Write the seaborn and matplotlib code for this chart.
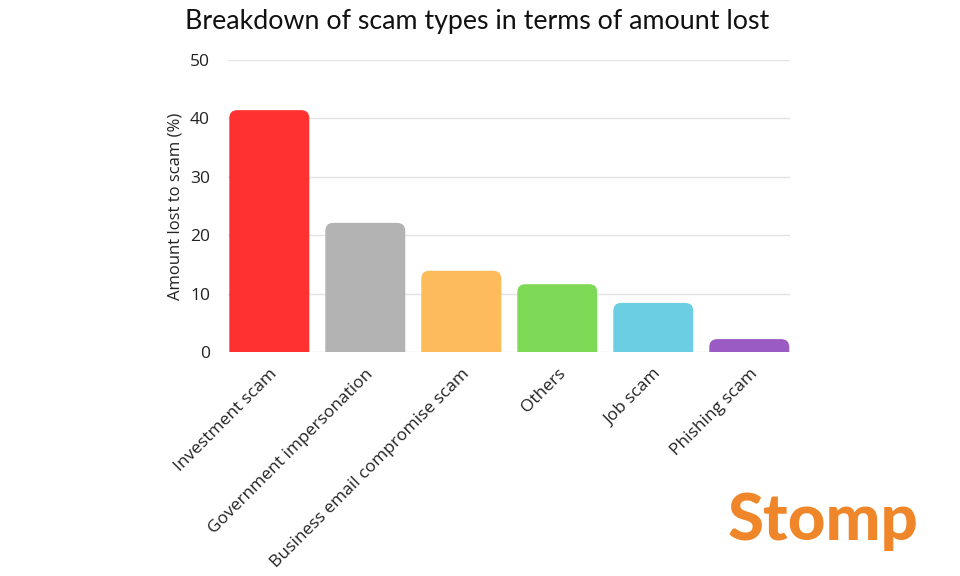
import matplotlib
matplotlib.use("Agg")
import matplotlib.pyplot as plt
import seaborn as sns
import pandas as pd
from matplotlib.patches import FancyBboxPatch

# data
CATEGORIES = ["Investment scam", "Government impersonation",
              "Business email compromise scam", "Others", "Job scam", "Phishing scam"]
AMOUNT_PCT = [41.4, 22.1, 13.9, 11.6, 8.4, 2.2]
COLORS     = ["#FF3131", "#B3B3B3", "#FDBB5C", "#7ED957", "#6CCEE2", "#9B5BC4"]

sns.set_style("white")
plt.rcParams["font.family"] = ["Open Sans", "DejaVu Sans"]

df = pd.DataFrame({"category": CATEGORIES, "amount": AMOUNT_PCT})

fig = plt.figure(figsize=(9.6, 5.76), dpi=100)
ax = fig.add_axes([0.2375, 0.389, 0.585, 0.507])

sns.barplot(data=df, x="category", y="amount", hue="category",
            palette=COLORS, saturation=1, width=0.833, legend=False, ax=ax, zorder=3)

# swap the flat bars for ones with rounded top corners
r_x = 0.085
aspect = (8 / 5.84) / r_x
for p in list(ax.patches):
    x, w, h = p.get_x(), p.get_width(), p.get_height()
    fc = p.get_facecolor()
    p.remove()
    rb = FancyBboxPatch((x, -3), w, h + 3,
                        boxstyle=f"round,pad=0,rounding_size={r_x}",
                        mutation_aspect=aspect, facecolor=fc,
                        edgecolor="none", zorder=3)
    ax.add_patch(rb)

ax.set_xlim(-0.43, 5.42)
ax.set_ylim(0, 50)
ax.set_yticks([0, 10, 20, 30, 40, 50])
ax.yaxis.grid(True, color="#E3E3E3", linewidth=1, zorder=0)
ax.set_axisbelow(True)
sns.despine(ax=ax, left=True, bottom=True)
ax.tick_params(axis="both", length=0)
ax.tick_params(axis="y", labelsize=12.5, labelcolor="#222222", pad=13)
ax.set_xticks(range(len(CATEGORIES)))
ax.set_xticklabels(CATEGORIES, rotation=45, ha="right", rotation_mode="anchor",
                   fontsize=12.5, color="#222222")
ax.tick_params(axis="x", pad=10)
ax.set_xlabel("")
ax.set_ylabel("Amount lost to scam (%)", fontsize=12, color="#222222", labelpad=5)

fig.text(0.497, 0.962, "Breakdown of scam types in terms of amount lost",
         ha="center", va="center", fontsize=19.3, color="#111111",
         family=["Lato", "DejaVu Sans"])

fig.text(0.857, 0.094, "Stomp", ha="center", va="center", fontsize=47,
         fontweight="black", color="#F0862A", family=["Lato", "DejaVu Sans"])

fig.savefig("out.png", dpi=100, facecolor="white")
